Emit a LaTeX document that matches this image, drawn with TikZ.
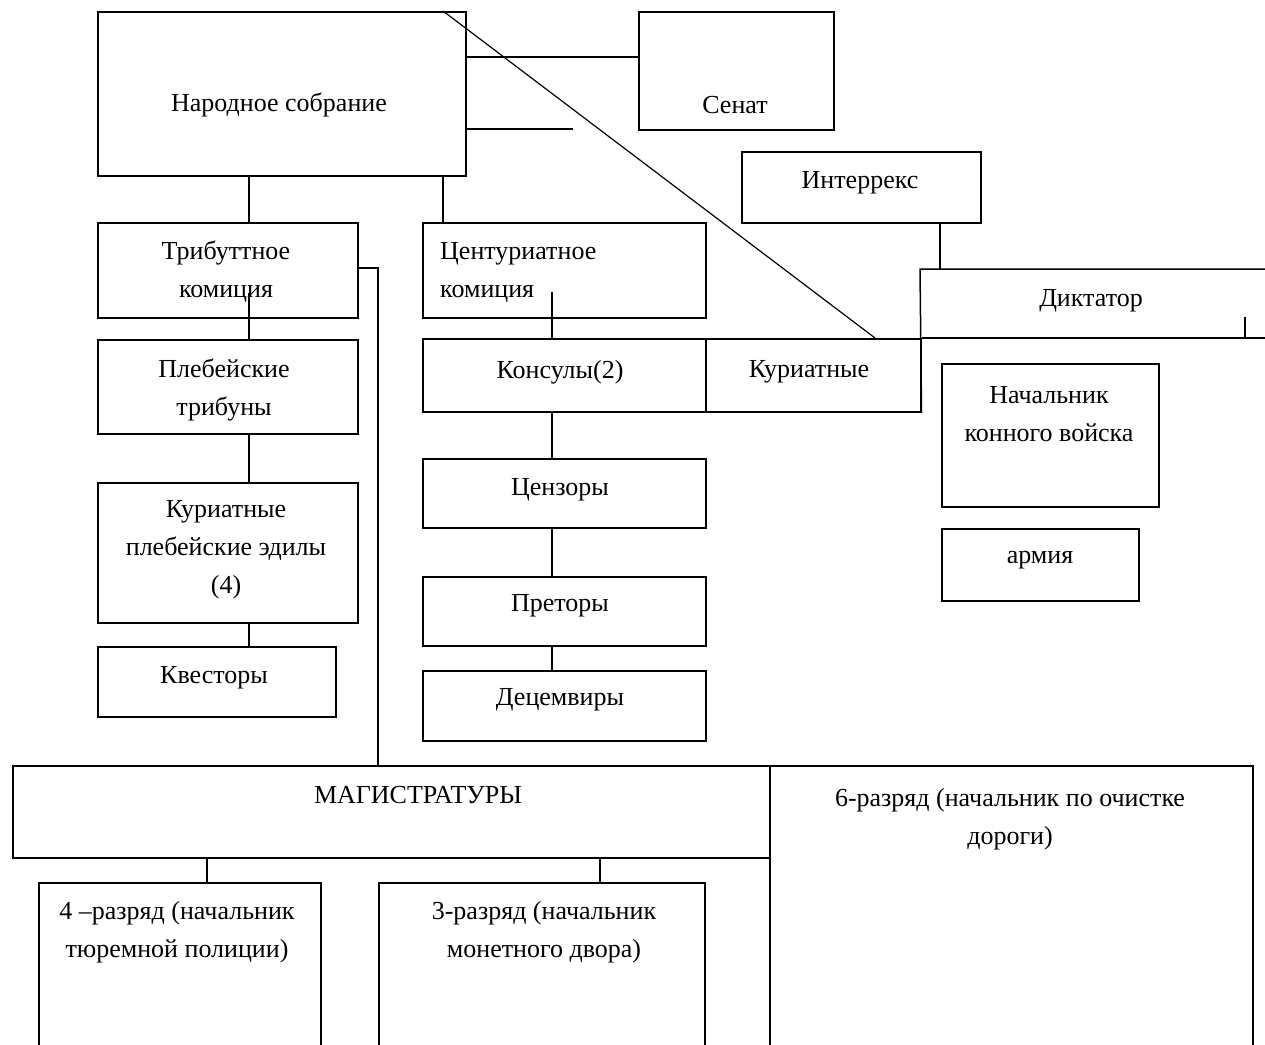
\documentclass[tikz,border=0pt]{standalone}
\usepackage{fontspec}
\setmainfont{Liberation Serif}
\begin{document}
\begin{tikzpicture}[x=1pt,y=-1pt,
  box/.style={draw,line width=1.5pt,inner sep=0pt,anchor=north west},
  txt/.style={inner sep=0pt,align=center,font=\fontsize{26}{38}\selectfont,yshift=-2pt},
  ln/.style={line width=1.5pt}]
\useasboundingbox (0,0) rectangle (1265,1044);
\clip (0,0) rectangle (1265,1044);
% boxes
\node[box,minimum width=368,minimum height=164] (nar) at (97,11) {};
\node[box,minimum width=195,minimum height=118] (sen) at (638,11) {};
\node[box,minimum width=239,minimum height=71] (inter) at (741,151) {};
\node[box,minimum width=260,minimum height=95] (trib) at (97,222) {};
\node[box,minimum width=283,minimum height=95] (cent) at (422,222) {};
\node[box,minimum width=283,minimum height=73] (kons) at (422,338) {};
\node[box,minimum width=215,minimum height=73] (kur) at (705,338) {};
\node[box,minimum width=260,minimum height=94] (pleb) at (97,339) {};
\node[box,minimum width=260,minimum height=140] (edil) at (97,482) {};
\node[box,minimum width=238,minimum height=70] (kvest) at (97,646) {};
\node[box,minimum width=283,minimum height=69] (cenz) at (422,458) {};
\node[box,minimum width=283,minimum height=69] (pret) at (422,576) {};
\node[box,minimum width=283,minimum height=70] (decem) at (422,670) {};
\node[box,minimum width=217,minimum height=143] (nach) at (941,363) {};
\node[box,minimum width=197,minimum height=72] (arm) at (941,528) {};
\node[box,minimum width=757,minimum height=92] (mag) at (12,765) {};
\node[box,minimum width=483,minimum height=320] (r6) at (769,765) {};
\node[box,minimum width=282,minimum height=200] (r4) at (38,882) {};
\node[box,minimum width=326,minimum height=200] (r3) at (378,882) {};
% texts
\node[txt] (tnar) at (279,103) {Народное собрание};
\node[txt] (tsen) at (735,103) {Сенат};
\node[txt] (tint) at (860,181) {Интеррекс};
\node[txt] (ttrib) at (226,270) {Трибуттное\\комиция};
\node[txt,align=left,anchor=west] (tcent) at (440,270) {Центуриатное\\комиция};
\node[txt] (tdikt) at (1091,299) {Диктатор};
\node[txt] (tkons) at (560,370) {Консулы(2)};
\node[txt] (tkur) at (809,370) {Куриатные};
\node[txt] (tpleb) at (224,388) {Плебейские\\трибуны};
\node[txt] (tnach) at (1049,412) {Начальник\\конного войска};
\node[txt] (tedil) at (226,548) {Куриатные\\плебейские эдилы\\(4)};
\node[txt] (tcenz) at (560,488) {Цензоры};
\node[txt] (tarm) at (1040,558) {армия};
\node[txt] (tpret) at (560,604) {Преторы};
\node[txt] (tkvest) at (214,676) {Квесторы};
\node[txt] (tdecem) at (560,698) {Децемвиры};
\node[txt] (tmag) at (418,793) {МАГИСТРАТУРЫ};
\node[txt] (tr6) at (1010,817) {6-разряд (начальник по очистке\\дороги)};
\node[txt] (tr4) at (177,930) {4 –разряд (начальник\\тюремной полиции)};
\node[txt] (tr3) at (544,930) {3-разряд (начальник\\монетного двора)};
% helper coordinates
\coordinate (xa) at (249,0);
\coordinate (xb) at (443,0);
\coordinate (xc) at (552,0);
\coordinate (xd) at (940,0);
\coordinate (xe) at (378,0);
\coordinate (xf) at (207,0);
\coordinate (xg) at (600,0);
\coordinate (xh) at (1245,0);
\coordinate (ya) at (0,57);
\coordinate (yb) at (0,129);
\coordinate (yc) at (0,268);
\coordinate (dtl) at (920,269);
\coordinate (dtr) at (1265,269);
\coordinate (dbr) at (1265,338);
\coordinate (dgend) at (875,338);
\coordinate (ltop) at (573,129);
\coordinate (ctrin) at (552,292);
\coordinate (trin) at (249,293);
\coordinate (tick) at (1245,317);
% connectors
\draw[ln] (nar.east |- ya) -- (sen.west |- ya);
\draw[ln] (nar.east |- yb) -- (ltop);
\draw[line width=1.2pt] (nar.north -| xb) -- (dgend);
\draw[ln] (nar.south -| xa) -- (trib.north -| xa);
\draw[ln] (nar.south -| xb) -- (cent.north -| xb);
\draw[ln] (trin) -- (pleb.north -| xa);
\draw[ln] (pleb.south -| xa) -- (edil.north -| xa);
\draw[ln] (edil.south -| xa) -- (kvest.north -| xa);
\draw[ln] (trib.east |- yc) -- (xe |- yc) -- (mag.north -| xe);
\draw[ln] (ctrin) -- (kons.north -| xc);
\draw[ln] (kons.south -| xc) -- (cenz.north -| xc);
\draw[ln] (cenz.south -| xc) -- (pret.north -| xc);
\draw[ln] (pret.south -| xc) -- (decem.north -| xc);
\draw[ln] (inter.south -| xd) -- (dtl -| xd);
\draw[ln] (kur.south east) -- (dtl) -- (dtr);
\draw[ln] (kur.north east) -- (dbr);
\draw[ln] (tick) -- (dbr -| xh);
\draw[ln] (mag.south -| xf) -- (r4.north -| xf);
\draw[ln] (mag.south -| xg) -- (r3.north -| xg);
\end{tikzpicture}
\end{document}
